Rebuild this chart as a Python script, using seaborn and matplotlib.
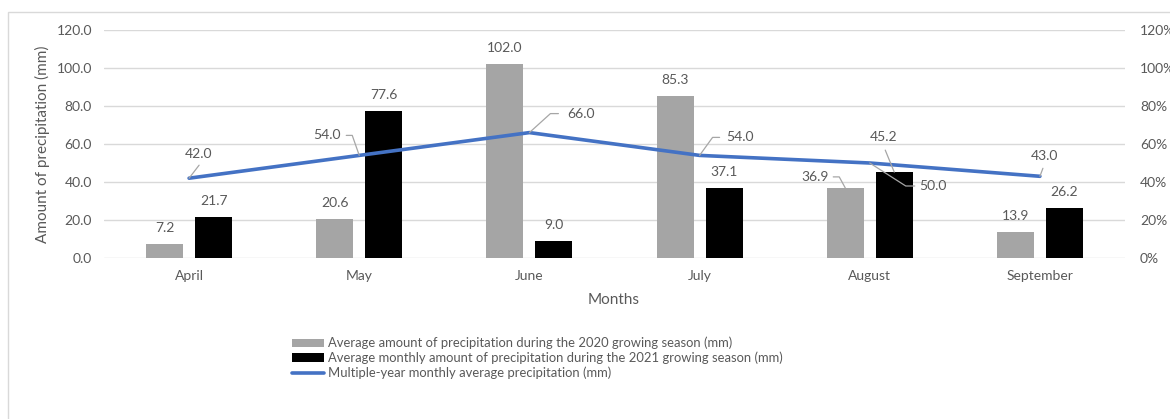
import numpy as np
import pandas as pd
import matplotlib
matplotlib.use("Agg")
import matplotlib.pyplot as plt
import seaborn as sns
from matplotlib.lines import Line2D
from matplotlib.patches import Patch, Rectangle
from matplotlib.transforms import IdentityTransform

# ---- data ----
months = ["April", "May", "June", "July", "August", "September"]
rain_2020 = [7.2, 20.6, 102.0, 85.3, 36.9, 13.9]
rain_2021 = [21.7, 77.6, 9.0, 37.1, 45.2, 26.2]
multi_year = [42.0, 54.0, 66.0, 54.0, 50.0, 43.0]
series_names = [
    "Average amount of precipitation during the 2020 growing season (mm)",
    "Average monthly amount of precipitation during the 2021 growing season (mm)",
    "Multiple-year monthly average precipitation (mm)",
]
left_ticks = [0, 20, 40, 60, 80, 100, 120]
right_ticks = [0.0, 0.2, 0.4, 0.6, 0.8, 1.0, 1.2]
right_tick_labels = ["0%", "20%", "40%", "60%", "80%", "100%", "120%"]

# ---- style ----
GRAY = "#A5A5A5"
BLACK = "#000000"
BLUE = "#4472C4"
TEXT = "#595959"
GRID = "#D9D9D9"
LEADER = "#A6A6A6"

sns.set_theme(style="white")
plt.rcParams["font.family"] = ["Lato", "DejaVu Sans"]

W, H = 1170, 419
fig = plt.figure(figsize=(W / 100, H / 100), dpi=100)
fig.patch.set_facecolor("white")

# outer chart frame
fig.add_artist(Rectangle((8 / W, -0.05), 1.2, 1 - 12 / H + 0.05, transform=fig.transFigure,
                         fill=False, edgecolor=GRID, lw=1.0))

ax = fig.add_axes([104 / W, 1 - 258 / H, 1021 / W, 228 / H])

df = pd.DataFrame({
    "Month": months * 2,
    "Series": [series_names[0]] * len(months) + [series_names[1]] * len(months),
    "mm": rain_2020 + rain_2021,
})
sns.barplot(data=df, x="Month", y="mm", hue="Series", palette=[GRAY, BLACK],
            width=0.576, gap=0.243, saturation=1, errorbar=None, legend=False,
            ax=ax, zorder=2)
for c in ax.containers:
    for b in c:
        b.set_edgecolor("none")

xpos = np.arange(len(months))
sns.lineplot(x=xpos, y=multi_year, color=BLUE, lw=2.6, ax=ax, zorder=3)

ax.set_xlim(-0.5, len(months) - 0.5)
ax.set_ylim(0, 120)
ax.set_yticks(left_ticks)
ax.set_yticklabels([f"{t:.1f}" for t in left_ticks])
ax.yaxis.grid(True, color=GRID, lw=1.0)
ax.set_axisbelow(True)
for s in ax.spines.values():
    s.set_visible(False)
ax.tick_params(axis="y", length=0, pad=8.6, labelsize=10, labelcolor=TEXT)
ax.tick_params(axis="x", length=0, pad=8.6, labelsize=10, labelcolor=TEXT)
ax.set_xlabel("")
ax.set_ylabel("")

ax2 = ax.twinx()
ax2.set_ylim(0, 1.2)
ax2.set_yticks(right_ticks)
ax2.set_yticklabels(right_tick_labels)
for s in ax2.spines.values():
    s.set_visible(False)
ax2.tick_params(axis="y", length=0, pad=10.8, labelsize=10, labelcolor=TEXT)

fig.text(42 / W, 1 - 144 / H, "Amount of precipitation (mm)", rotation=90,
         ha="center", va="center", fontsize=11, color=TEXT)
fig.text(614 / W, 1 - 300 / H, "Months", ha="center", va="center",
         fontsize=11, color=TEXT)

# ---- data labels ----
def leader(anchor_xy, path):
    px, py = ax.transData.transform(anchor_xy)
    xs = [px + dx for dx, dy in path]
    ys = [py + dy for dx, dy in path]
    fig.add_artist(Line2D(xs, ys, transform=IdentityTransform(), color=LEADER,
                          lw=0.9, zorder=5))

def label(anchor_xy, text, offset, path=None):
    ax.annotate(text, xy=anchor_xy, xytext=offset, textcoords="offset pixels",
                ha="center", va="center", fontsize=10, color=TEXT, zorder=6,
                annotation_clip=False)
    if path:
        leader(anchor_xy, path)

fig.canvas.draw()

bar_label_style = {
    (1, 4): ((-11, 35), [(0, 0), (-9, 22)]),             # 2021, August
    (0, 4): ((-30, 11), [(0, 0), (-6, 11), (-12, 11)]),  # 2020, August
}
for si, cont in enumerate(ax.containers):
    for mi, b in enumerate(cont):
        xy = (b.get_x() + b.get_width() / 2, b.get_height())
        off, path = bar_label_style.get((si, mi), ((0, 16), None))
        label(xy, f"{b.get_height():.1f}", off, path)

line_label_style = [
    ((9, 24), [(0, 0), (10, 13)]),
    ((-32, 20), [(0, 0), (-7, 20), (-13, 20)]),
    ((52, 19), [(0, 0), (21, 19), (29, 19)]),
    ((40, 18), [(0, 0), (13, 18), (20, 18)]),
    ((63, -23), [(0, 0), (36, -23), (45, -23)]),
    ((5, 20), [(0, 0), (3, 8)]),
]
for x, v, (off, path) in zip(xpos, multi_year, line_label_style):
    label((x, v), f"{v:.1f}", off, path)

# ---- legend ----
handles = [
    Patch(facecolor=GRAY, edgecolor="none"),
    Patch(facecolor=BLACK, edgecolor="none"),
    Line2D([0], [0], color=BLUE, lw=2.6),
]
fs = 9.4
fs_px = fs * 100 / 72
fig.legend(handles, series_names, loc="center left",
           bbox_to_anchor=(292 / W, 1 - 358 / H), frameon=False,
           fontsize=fs, labelcolor=TEXT, handlelength=32 / fs_px,
           handleheight=0.62, handletextpad=4 / fs_px, labelspacing=0.18,
           borderpad=0, borderaxespad=0)

fig.savefig("out.png", dpi=100, facecolor="white")
